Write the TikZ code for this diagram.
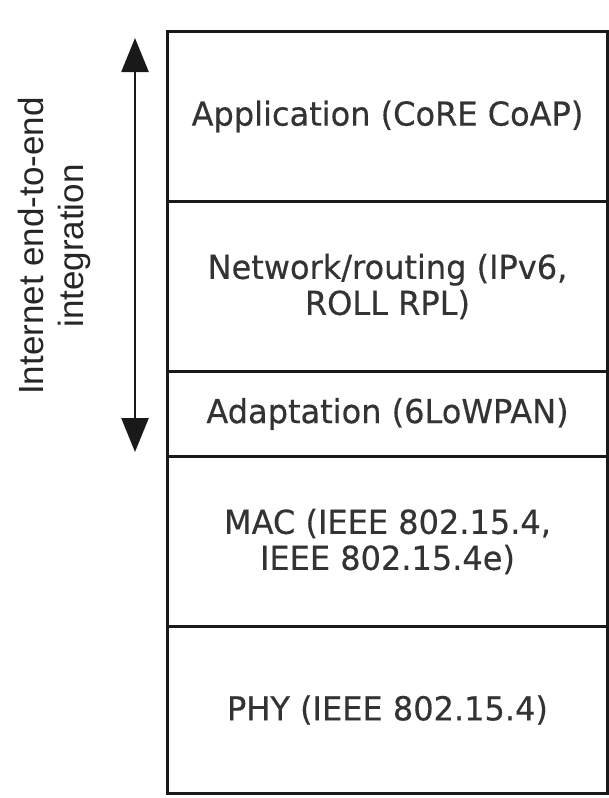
\documentclass[tikz,border=0pt]{standalone}
\usepackage{fontspec}
\usetikzlibrary{arrows.meta}
\newfontfamily\layerfont{DejaVu Sans}[FakeStretch=0.97,FakeBold=0.4]
\newfontfamily\labelfont{Liberation Sans}
\begin{document}
\begin{tikzpicture}[x=1pt,y=-1pt,
  layer/.style={draw=black!90, line width=3pt, minimum width=440pt, inner sep=0pt,
    anchor=north west, align=center, text=black!80,
    font=\layerfont\fontsize{33}{36}\selectfont},
  sidelabel/.style={rotate=90, align=center, text=black!85,
    font=\labelfont\fontsize{35}{40}\selectfont},
  dblarrow/.style={{Triangle[length=34pt,width=27pt]}-{Triangle[length=34pt,width=27pt]}, line width=2.6pt, draw=black!90}]
\useasboundingbox (0,0) rectangle (608,798);
\fill[white] (0,0) rectangle (608,798);
\node[layer, minimum height=170pt] (app) at (166,30) {Application (CoRE CoAP)};
\node[layer, minimum height=170pt] (net) at (166,200) {Network/routing (IPv6,\\ROLL RPL)};
\node[layer, minimum height=85pt] (adp) at (166,370) {Adaptation (6LoWPAN)};
\node[layer, minimum height=170pt] (mac) at (166,455) {MAC (IEEE 802.15.4,\\IEEE 802.15.4e)};
\node[layer, minimum height=167pt] (phy) at (166,625) {PHY (IEEE 802.15.4)};
\coordinate (atop) at (135,38);
\coordinate (abot) at (135,452);
\draw[dblarrow] (abot) -- (atop);
\node[sidelabel] (lbl) at (54,246) {Internet end-to-end\\integration};
\end{tikzpicture}
\end{document}
